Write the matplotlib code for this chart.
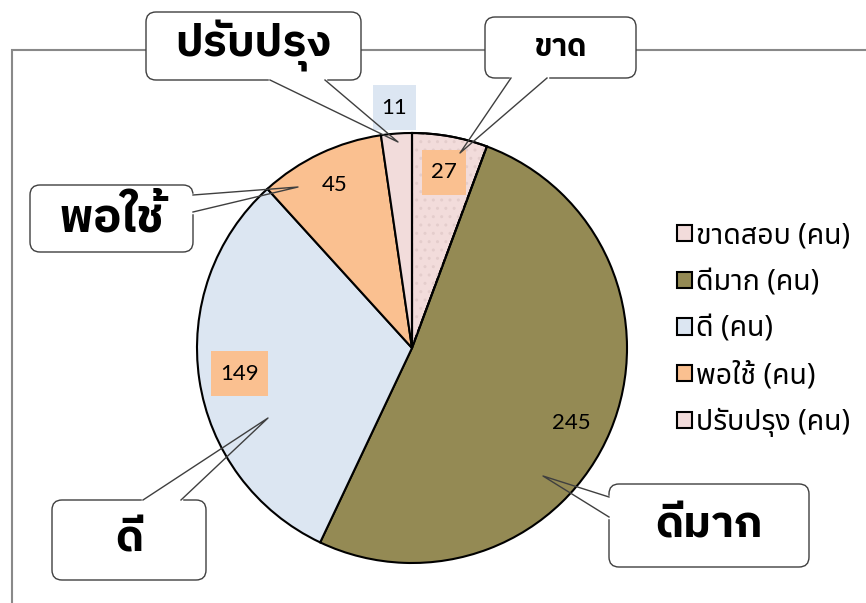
import matplotlib
matplotlib.use("Agg")
import matplotlib.pyplot as plt
from matplotlib.patches import FancyBboxPatch, Rectangle, Wedge
import numpy as np

# data
labels = ["ขาดสอบ (คน)", "ดีมาก (คน)", "ดี (คน)", "พอใช้ (คน)", "ปรับปรุง (คน)"]
values = [27, 245, 149, 45, 11]
colors = ["#F2DCDB", "#948A54", "#DCE6F2", "#FAC090", "#F2DCDB"]
callout_texts = ["ขาด", "ดีมาก", "ดี", "พอใช้", "ปรับปรุง"]

W, H = 866, 603
num_font = ["Lato", "Noto Sans Thai"]
thai_font = ["Noto Sans Thai", "Lato"]
call_font = ["IBM Plex Sans Thai", "Noto Sans Thai"]

fig = plt.figure(figsize=(W / 100, H / 100), dpi=100)
ax = fig.add_axes([0, 0, 1, 1])

def fy(y):
    # pixel row -> data y
    return H - y

cx, cy, r = 412, fy(348), 215
wedges, _ = ax.pie(values, colors=colors, startangle=90, counterclock=False,
                   center=(cx, cy), radius=r,
                   wedgeprops=dict(edgecolor="black", linewidth=1.5))
ax.set_xlim(0, W)
ax.set_ylim(0, H)
ax.set_aspect("auto")
ax.axis("off")

# plot area border (top and left visible)
ax.add_patch(Rectangle((12, fy(50) - 700), 1000, 700, fill=False,
                       edgecolor="#898989", linewidth=1.5, zorder=0))

# faint dotted texture on the first slice, then its outline again on top
w0 = wedges[0]
ax.add_patch(Wedge((cx, cy), r, w0.theta1, w0.theta2, fill=False,
                   hatch="..", edgecolor="#E4CDCC", linewidth=0, zorder=1.5))
ax.add_patch(Wedge((cx, cy), r, w0.theta1, w0.theta2, fill=False,
                   edgecolor="black", linewidth=1.5, zorder=1.6))

# data labels
dist = [0.83, 0.82, 0.81, 0.84, 1.12]
shift = [0, -2.5, 0, 0, 0]
label_bg = ["#FAC090", None, "#FAC090", None, "#DCE6F2"]
renderer = fig.canvas.get_renderer()
for w, v, d, s, bg in zip(wedges, values, dist, shift, label_bg):
    ang = np.deg2rad((w.theta1 + w.theta2) / 2 + s)
    tx, ty = cx + r * d * np.cos(ang), cy + r * d * np.sin(ang)
    t = ax.text(tx, ty, str(v), ha="center", va="center", fontsize=16,
                family=num_font, zorder=3)
    if bg:
        bb = t.get_window_extent(renderer)
        (x0, y0), (x1, y1) = ax.transData.inverted().transform([[bb.x0, bb.y0], [bb.x1, bb.y1]])
        ax.add_patch(Rectangle((x0 - 9, y0 - 12.5), x1 - x0 + 18, y1 - y0 + 25,
                               facecolor=bg, edgecolor="none", zorder=2.5))

# callouts: box (x0, y0, x1, y1), pointer base points, tip, fontsize
callouts = [
    ((485, 17, 636, 78), ((511, 78), (547, 78)), (460, 153), 22),
    ((609, 484, 809, 567), ((609, 497), (609, 517)), (543, 476), 32),
    ((52, 500, 206, 580), ((143, 500), (181, 500)), (268, 418), 32),
    ((30, 185, 193, 252), ((193, 195), (193, 212)), (298, 187), 34),
    ((146, 12, 361, 80), ((270, 80), (325, 80)), (398, 142), 32),
]
for txt, (box, base, tip, fs) in zip(callout_texts, callouts):
    x0, y0, x1, y1 = box
    ax.add_patch(FancyBboxPatch((x0, fy(y1)), x1 - x0, y1 - y0,
                                boxstyle="round,pad=0,rounding_size=10",
                                facecolor="white", edgecolor="#3F3F3F",
                                linewidth=1.0, zorder=4))
    (ax_, ay_), (bx_, by_) = base
    ax.plot([ax_, bx_], [fy(ay_), fy(by_)], color="white", linewidth=2.5, zorder=4.5)
    ax.plot([ax_, tip[0], bx_], [fy(ay_), fy(tip[1]), fy(by_)],
            color="#3F3F3F", linewidth=1.0, zorder=4.6)
    ax.text((x0 + x1) / 2, fy((y0 + y1) / 2), txt, ha="center", va="center",
            fontsize=fs, fontweight="bold", family=call_font, zorder=5)

leg = ax.legend(wedges, labels, loc="upper left", bbox_to_anchor=(666 / W, 1 - 210 / H),
                frameon=False, prop=dict(family=thai_font, size=20.5),
                handlelength=0.5, handleheight=0.5, handletextpad=0.15,
                labelspacing=0.62, borderaxespad=0)
for h in leg.legend_handles:
    h.set_linewidth(1.5)

fig.savefig("out.png", dpi=100)
